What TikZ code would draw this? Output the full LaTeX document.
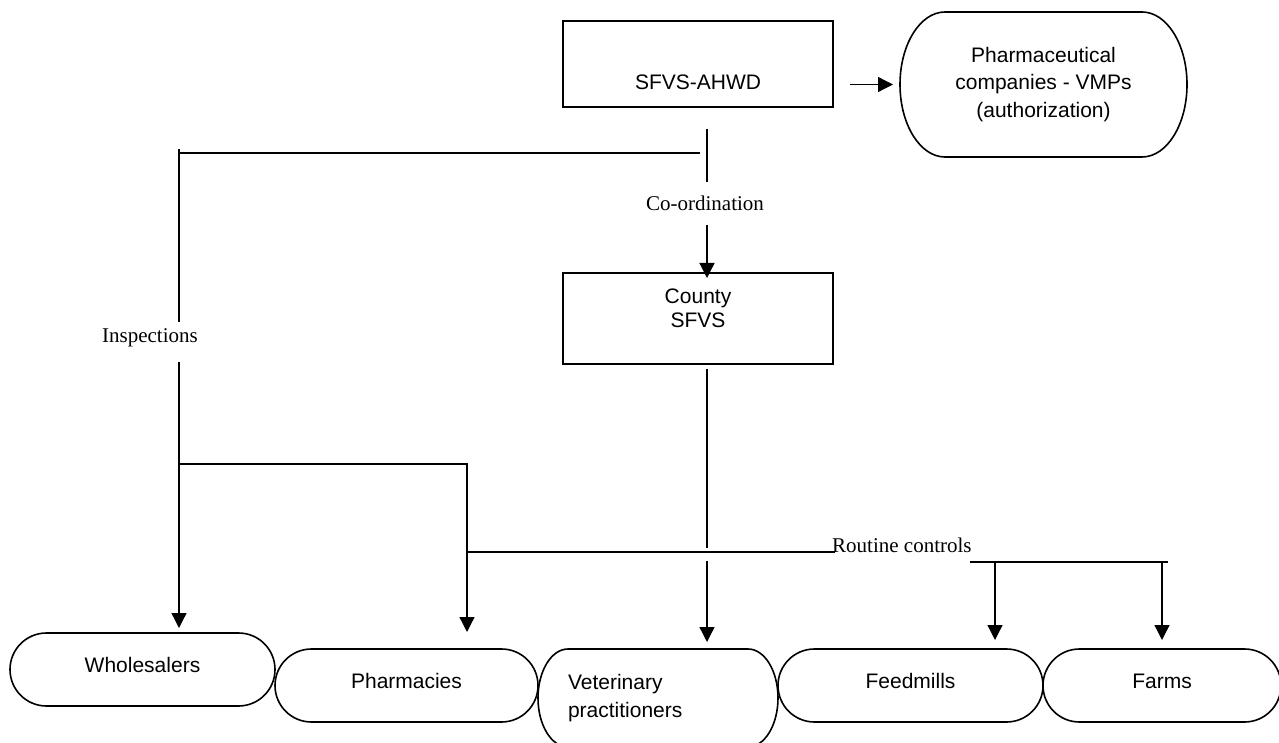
\documentclass[tikz,border=0pt]{standalone}
\usepackage{fontspec}
\setmainfont{Liberation Serif}
\setsansfont{Liberation Sans}
\usetikzlibrary{arrows.meta,positioning}
\tikzstyle{office}=[
	rectangle,
	draw,
	line width=1.6pt,
	minimum width=270pt,
	outer sep=0pt
]
\tikzstyle{boxtext}=[
	font=\sffamily\fontsize{21}{23.7}\selectfont,
	align=center,
	inner sep=0pt
]
\tikzstyle{capsule}=[
	rectangle,
	outer sep=0pt,
	inner sep=0pt,
	minimum height=73pt,
	font=\sffamily\fontsize{21}{27.7}\selectfont
]
\tikzstyle{oneline}=[
	text height=15pt,
	text depth=9pt
]
\tikzstyle{outline}=[line width=1.6pt]
\tikzstyle{link}=[line width=1.3pt]
\tikzstyle{control}=[
	link,
	-{Triangle[length=15pt,width=15pt]}
]
\tikzstyle{remark}=[
	font=\fontsize{21}{24}\selectfont,
	inner sep=0pt
]

\begin{document}
\begin{tikzpicture}[x=1pt,y=1pt]
\useasboundingbox (0,0) rectangle (1279,742);

% offices
\node [office, minimum height=86pt,
	label={[boxtext, yshift=-18pt]center:SFVS-AHWD}] (SFVSAHWD) at (698,678) {};
\node [office, minimum height=91pt,
	label={[boxtext, yshift=10pt]center:County\\SFVS}] (CountySFVS) at (698,423.5) {};

% supervised parties
\node [capsule, minimum width=287pt, minimum height=145pt, align=center] (PharmaCompanies) at (1043.5,657.5)
	{Pharmaceutical\\companies - VMPs\\(authorization)};
\node [capsule, oneline, minimum width=265pt] (Wholesalers) at (142.5,72.5) {Wholesalers};
\node [capsule, oneline, minimum width=263pt, right=0pt of Wholesalers, yshift=-16pt] (Pharmacies) {Pharmacies};
\node [capsule, minimum width=240pt, minimum height=98pt, text width=180pt, align=left,
	right=0pt of Pharmacies, yshift=-12.5pt] (VetPractitioners) {Veterinary\\practitioners};
\node [capsule, oneline, minimum width=265pt, right=0pt of VetPractitioners, yshift=12.5pt] (Feedmills) {Feedmills};
\node [capsule, oneline, minimum width=238pt, right=0pt of Feedmills] (Farms) {Farms};

\foreach \nd/\rx/\ry in {PharmaCompanies/45/72.5, VetPractitioners/30/49, Wholesalers/36.5/36.5,
		Pharmacies/36.5/36.5, Feedmills/36.5/36.5, Farms/36.5/36.5}
	\draw [outline] ([xshift=\rx pt]\nd.north west) -- ([xshift=-\rx pt]\nd.north east)
		arc [start angle=90, end angle=-90, x radius=\rx pt, y radius=\ry pt]
		-- ([xshift=\rx pt]\nd.south west)
		arc [start angle=270, end angle=90, x radius=\rx pt, y radius=\ry pt] -- cycle;

% labels
\node [remark] (Coordination) at (705,539) {Co-ordination};
\node [remark] (Inspections) at (150,404) {Inspections};
\node [remark, anchor=west] (Routine) at (832,197) {Routine controls};

% turning points
\coordinate (CoordTop) at (707,613);
\coordinate (InspCorner) at (179,589);
\coordinate (PharmCorner) at (467,278);
\coordinate (RoutineEnd) at (835,190);
\coordinate (VetDrop) at (707,181);
\coordinate (FeedLeft) at (970,180);
\coordinate (FeedDrop) at (995,180);
\coordinate (FeedRight) at (1168,180);

% connectors
\draw [control] ([xshift=17pt]SFVSAHWD.east |- PharmaCompanies.west) -- ([xshift=-7pt]PharmaCompanies.west);
\draw [link] (CoordTop) -- ++(0,-53);
\draw [control] (707,517) -- ([xshift=9pt,yshift=-5pt]CountySFVS.north);
\draw [link] ([xshift=-7pt]CoordTop |- InspCorner) -- (InspCorner);
\draw [link] ([yshift=4pt]InspCorner) -- (179,420);
\draw [control] (179,380) -- ([yshift=5pt]Wholesalers.north -| InspCorner);
\draw [control] (InspCorner |- PharmCorner) -- (PharmCorner) -- ([yshift=17pt]Pharmacies.north -| PharmCorner);
\draw [link] (PharmCorner |- RoutineEnd) -- (RoutineEnd);
\draw [link] ([xshift=9pt,yshift=-5pt]CountySFVS.south) -- (707,194);
\draw [control] (VetDrop) -- ([yshift=7pt]VetPractitioners.north -| VetDrop);
\draw [link] (FeedLeft) -- (FeedRight);
\draw [control] (FeedDrop) -- ([yshift=9pt]Feedmills.north -| FeedDrop);
\draw [control] (Farms.north |- FeedRight) -- ([yshift=9pt]Farms.north);
\end{tikzpicture}
\end{document}
